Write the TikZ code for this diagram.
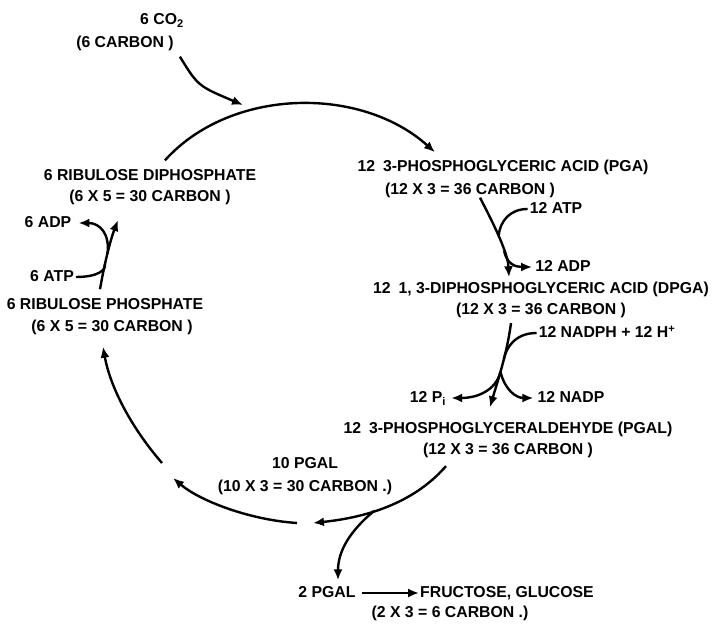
\documentclass[tikz,border=0pt]{standalone}
\usepackage{fontspec}
\setmainfont{Liberation Sans}
\usetikzlibrary{positioning,arrows.meta,calc}

\begin{document}
\begin{tikzpicture}[
    x=1pt, y=1pt,
    lbl/.style={font=\fontsize{15.8}{18}\selectfont\bfseries, inner sep=1pt, text height=11pt, text depth=2pt},
    arrow/.style={-{Latex[length=11pt,width=9pt]}, line width=2.4pt},
    flow/.style={line width=2.4pt}
]
    \useasboundingbox (0,0) rectangle (724,626);

    % compounds of the cycle
    \node[lbl] (co2) at (162,606) {6 CO\textsubscript{2}};
    \node[lbl] (co2c) at (125,583) {(6 CARBON )};

    \node[lbl] (rdp) at (150,450) {6 RIBULOSE DIPHOSPHATE};
    \node[lbl, below=6pt of rdp] (rdpc) {(6 X 5 = 30 CARBON )};

    \node[lbl] (adp6) at (48,403) {6 ADP};
    \node[lbl] (atp6) at (52,349) {6 ATP};

    \node[lbl] (rp) at (105,321) {6 RIBULOSE PHOSPHATE};
    \node[lbl] (rpc) at (112,299) {(6 X 5 = 30 CARBON )};

    \node[lbl] (pga) at (503,459) {12\enspace 3-PHOSPHOGLYCERIC ACID (PGA)};
    \node[lbl] (pgac) at (470,436) {(12 X 3 = 36 CARBON )};
    \node[lbl] (atp12) at (556,417) {12 ATP};
    \node[lbl] (adp12) at (563,359) {12 ADP};

    \node[lbl] (dpga) at (541,337) {12\enspace 1, 3-DIPHOSPHOGLYCERIC ACID (DPGA)};
    \node[lbl, below=6pt of dpga] (dpgac) {(12 X 3 = 36 CARBON )};
    \node[lbl] (nadph) at (607,293) {12 NADPH + 12 H\textsuperscript{+}};
    \node[lbl] (pi) at (428,228) {12 P\textsubscript{i}};
    \node[lbl] (nadp) at (571,228) {12 NADP};

    \node[lbl] (pgal) at (508,197) {12\enspace 3-PHOSPHOGLYCERALDEHYDE (PGAL)};
    \node[lbl, below=6pt of pgal] (pgalc) {(12 X 3 = 36 CARBON )};

    \node[lbl] (pgal10) at (305,162) {10 PGAL};
    \node[lbl, below=8pt of pgal10] (pgal10c) {(10 X 3 = 30 CARBON .)};

    \node[lbl] (pgal2) at (327,33) {2 PGAL};
    \node[lbl] (fru) at (507,33) {FRUCTOSE, GLUCOSE};
    \node[lbl] (pgal2c) at (450,13) {(2 X 3 = 6 CARBON .)};

    % free points between arrows
    \coordinate (fix) at (243,521);
    \coordinate (gapa) at (305,103);
    \coordinate (gapb) at (168,156);

    % carbon fixation
    \draw[arrow] ([xshift=5pt,yshift=-6pt]co2c.south east) .. controls (198,540) .. (fix);
    \draw[arrow] ([xshift=15pt,yshift=8pt]rdp.north) .. controls (230,538) and (360,541) .. ([xshift=-68pt,yshift=7pt]pga.north);

    % PGA -> DPGA
    \draw[arrow] ([xshift=10pt]pgac.south) .. controls (500,390) and (508,370) .. ([xshift=-32pt,yshift=4pt]dpga.north)
        coordinate[pos=0.4] (ja) coordinate[pos=0.6] (jb);
    \draw[flow] ([xshift=-1pt]atp12.west) .. controls (510,417) and (500,405) .. (ja);
    \draw[arrow] (jb) .. controls (507,362) and (515,359) .. ([xshift=-2pt]adp12.west);

    % DPGA -> PGAL
    \draw[arrow] ([xshift=-30pt,yshift=-5pt]dpgac.south) .. controls (507,272) and (497,243) .. ([xshift=-18pt,yshift=14pt]pgal.north)
        coordinate[pos=0.4] (jc) coordinate[pos=0.55] (jd);
    \draw[flow] ([xshift=-1pt]nadph.west) .. controls (515,293) and (506,278) .. (jc);
    \draw[arrow] (jd) .. controls (496,236) and (478,228) .. ([xshift=4pt]pi.east);
    \draw[arrow] (jd) .. controls (505,236) and (516,228) .. ([xshift=-3pt]nadp.west);

    % PGAL split
    \draw[arrow] ([xshift=-62pt,yshift=-8pt]pgalc.south) .. controls (420,130) and (380,110) .. ([xshift=8pt]gapa)
        coordinate[pos=0.65] (je);
    \draw[arrow] (je) .. controls (350,95) and (338,75) .. ([xshift=11pt,yshift=5pt]pgal2.north);
    \draw[arrow] ([xshift=5pt]pgal2.east) -- (fru.west);

    % regeneration
    \draw[arrow] ([xshift=-8pt]gapa) .. controls (250,106) and (200,125) .. ([shift={(5pt,-8pt)}]gapb);
    \draw[arrow] ([shift={(-6pt,7pt)}]gapb) .. controls (130,200) and (110,240) .. ([xshift=-9pt,yshift=-12pt]rpc.south);

    % RP -> RDP
    \draw[arrow] ([xshift=-5pt,yshift=8pt]rp.north) .. controls (104,360) and (110,385) .. ([xshift=-32pt,yshift=-15pt]rdpc.south)
        coordinate[pos=0.35] (jf) coordinate[pos=0.5] (jg);
    \draw[flow] ([xshift=1pt]atp6.east) .. controls (98,349) and (106,356) .. (jf);
    \draw[arrow] (jg) .. controls (110,392) and (100,403) .. ([xshift=6pt]adp6.east);
\end{tikzpicture}
\end{document}
